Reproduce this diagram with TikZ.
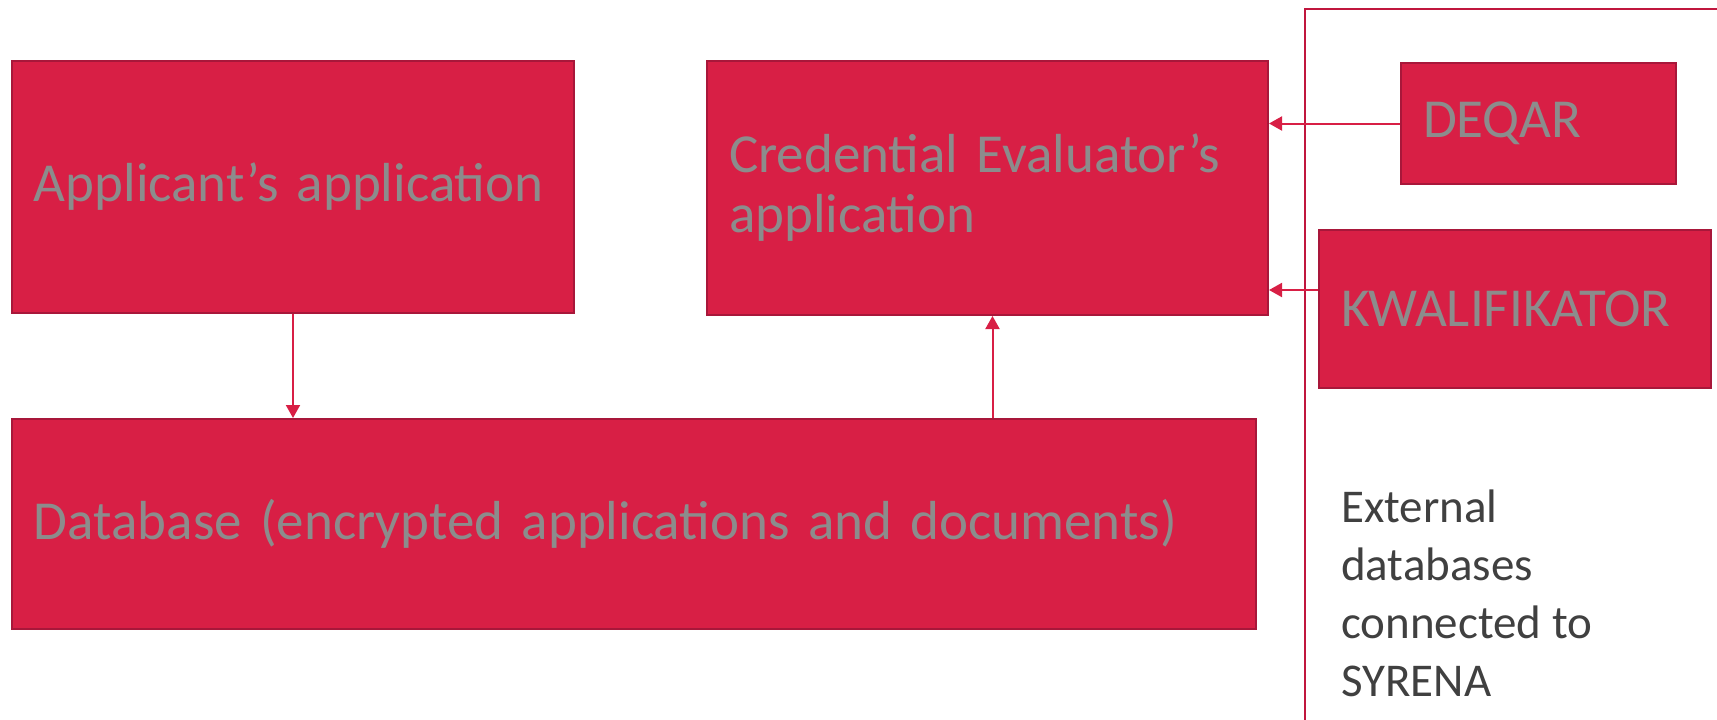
\documentclass[tikz,border=0pt]{standalone}
\usepackage{fontspec}
\setmainfont{Carlito}
\usepackage{xcolor}
\usetikzlibrary{positioning,calc,arrows.meta}
\definecolor{boxred}{HTML}{D81F45}
\definecolor{boxedge}{HTML}{A8173A}
\definecolor{boxtext}{HTML}{8C8C8C}
\definecolor{framered}{HTML}{C0163E}
\definecolor{notetext}{HTML}{404040}

\begin{document}
\begin{tikzpicture}[x=1pt,y=-1pt,
    box/.style={draw=boxedge,line width=2pt,fill=boxred,text=boxtext,align=left,inner xsep=22pt,inner ysep=0pt,anchor=north west,font=\fontsize{55}{60}\selectfont},
    link/.style={draw=boxred,line width=2pt,-{Triangle[length=13pt,width=14pt]}},
    note/.style={anchor=north west,inner sep=0pt,align=left,text=notetext,font=\fontsize{47}{58}\selectfont}]
    \useasboundingbox(0,0)rectangle(1717,720);
    \coordinate(fbot)at(1305,722);
    \coordinate(fend)at(1719,9);
    \draw[framered,line width=2.5pt](fbot)|-(fend);
    \node[box,minimum height=252,text width=518](appl)at(11,60){Applicant’s application};
    \node[box,minimum height=254,text width=517](eval)at(706,60){Credential Evaluator’s\\application};
    \node[box,minimum height=210,text width=1200](db)at(11,418){Database (encrypted applications and documents)};
    \node[box,minimum height=121,text width=231](deqar)at(1400,62){DEQAR};
    \node[box,minimum height=158,text width=348](kwal)at(1318,229){KWALIFIKATOR};
    \node[note](ext)at(1341,490){External\\databases\\connected to\\SYRENA};
    \coordinate(evalin)at([xshift=5pt]eval.south);
    \coordinate(kwalout)at([yshift=19pt]kwal.west);
    \draw[link](appl.south)--(appl.south|-db.north);
    \draw[link](evalin|-db.north)--(evalin);
    \draw[link](deqar.west)--(deqar.west-|eval.east);
    \draw[link](kwalout)--(kwalout-|eval.east);
  \end{tikzpicture}
\end{document}
